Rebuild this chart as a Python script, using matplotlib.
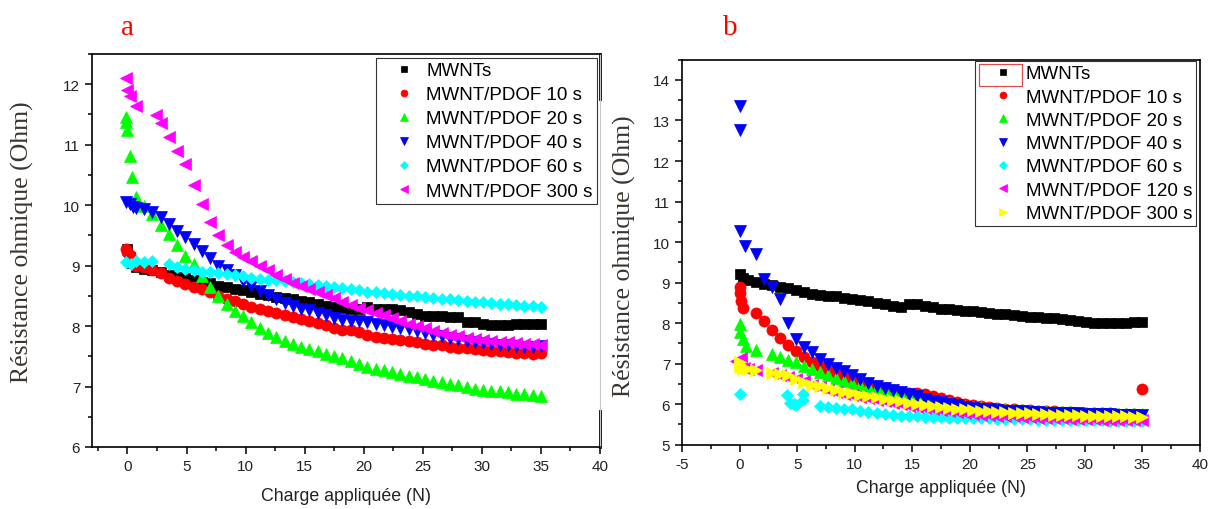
import matplotlib
matplotlib.use("Agg")
import matplotlib.pyplot as plt
from matplotlib.ticker import MultipleLocator
from matplotlib.patches import Rectangle

nan = float("nan")

# applied load (N) for the dense part of every curve
load = [0.7, 1.4, 2.1, 2.8, 3.5, 4.2, 4.9, 5.6, 6.3, 7.0,
        7.7, 8.4, 9.1, 9.8, 10.5, 11.2, 11.9, 12.6, 13.3, 14.0,
        14.7, 15.4, 16.1, 16.8, 17.5, 18.2, 18.9, 19.6, 20.3, 21.0,
        21.7, 22.4, 23.1, 23.8, 24.5, 25.2, 25.9, 26.6, 27.3, 28.0,
        28.7, 29.4, 30.1, 30.8, 31.5, 32.2, 32.9, 33.6, 34.3, 35.0]

# ---- panel a : first points near zero load, then values on `load`
a_mwnt_hx = [0.0, 0.2, 0.4]
a_mwnt_hy = [9.28, 9.15, 9.05]
a_mwnt = [8.98, 8.95, 8.92, 8.89, 8.84, 8.81, 8.79, 8.76, 8.73, 8.71,
          8.67, 8.64, 8.62, 8.59, 8.56, 8.53, 8.51, 8.48, 8.46, 8.44,
          8.42, 8.40, 8.37, 8.34, 8.32, 8.30, 8.28, 8.29, 8.31, 8.29,
          8.28, 8.28, 8.27, 8.24, 8.20, 8.17, 8.17, 8.16, 8.15, 8.15,
          8.07, 8.06, 8.04, 8.02, 8.01, 8.02, 8.04, 8.03, 8.04, 8.04]

a_10s_hx = [-0.1, 0.0, 0.2, 0.4]
a_10s_hy = [9.28, 9.22, 9.17, 9.05]
a_10s = [9.00, 8.97, 8.93, 8.88, 8.80, 8.75, 8.70, 8.64, 8.61, 8.56,
         8.50, 8.45, 8.41, 8.37, 8.32, 8.28, 8.25, 8.21, 8.18, 8.15,
         8.11, 8.08, 8.05, 8.01, 7.97, 7.94, 7.93, 7.91, 7.86, 7.82,
         7.80, 7.79, 7.77, 7.76, 7.74, 7.71, 7.69, 7.68, 7.66, 7.64,
         7.63, 7.62, 7.61, 7.59, 7.58, 7.57, 7.56, 7.55, 7.54, 7.56]

a_20s_hx = [-0.1, -0.1, 0.0, 0.2, 0.4]
a_20s_hy = [11.46, 11.38, 11.24, 10.82, 10.47]
a_20s = [10.14, 9.98, 9.85, 9.68, 9.52, 9.34, 9.16, 9.02, 8.82, 8.65,
         8.50, 8.36, 8.25, 8.16, 8.06, 7.96, 7.88, 7.82, 7.76, 7.70,
         7.66, 7.62, 7.58, 7.54, 7.50, 7.47, 7.42, 7.37, 7.32, 7.29,
         7.27, 7.24, 7.20, 7.18, 7.15, 7.12, 7.09, 7.07, 7.05, 7.02,
         6.99, 6.96, 6.95, 6.93, 6.92, 6.91, 6.88, 6.87, 6.86, 6.85]

a_40s_hx = [-0.1, 0.2, 0.5]
a_40s_hy = [10.05, 10.02, 9.97]
a_40s = [9.95, 9.93, 9.89, 9.80, 9.69, 9.57, 9.48, 9.36, 9.24, 9.12,
         9.00, 8.92, 8.85, 8.74, 8.66, 8.58, 8.52, 8.45, 8.38, 8.33,
         8.29, 8.26, 8.22, 8.18, 8.14, 8.10, 8.09, 8.08, 8.06, 8.03,
         8.01, 7.99, 7.97, 7.95, 7.92, 7.89, 7.86, 7.83, 7.80, 7.78,
         7.75, 7.73, 7.72, 7.70, 7.69, 7.68, 7.67, 7.66, 7.66, 7.67]

a_60s_hx = [-0.1, 0.3]
a_60s_hy = [9.06, 9.03]
a_60s = [9.07, 9.06, 9.08, nan, 9.02, 8.98, 8.95, 8.92, 8.90, 8.89,
         8.88, 8.86, 8.85, 8.82, 8.80, 8.78, 8.77, 8.76, 8.74, 8.73,
         8.72, 8.70, 8.68, 8.66, 8.64, 8.63, 8.61, 8.59, 8.57, 8.56,
         8.54, 8.53, 8.51, 8.50, 8.49, 8.48, 8.46, 8.45, 8.44, 8.43,
         8.41, 8.40, 8.39, 8.38, 8.37, 8.36, 8.35, 8.34, 8.33, 8.31]

a_300s_hx = [-0.1, 0.0, 0.2, 2.4]
a_300s_hy = [12.10, 11.90, 11.81, 11.49]
a_300s = [11.64, nan, nan, 11.36, 11.12, 10.90, 10.68, 10.34, 10.02, 9.72,
          9.50, 9.34, 9.22, 9.15, 9.07, 9.00, 8.93, 8.84, 8.78, 8.72,
          8.67, 8.62, 8.57, 8.51, 8.46, 8.40, 8.35, 8.30, 8.26, 8.22,
          8.18, 8.13, 8.08, 8.04, 8.00, 7.96, 7.92, 7.88, 7.85, 7.83,
          7.81, 7.79, 7.77, 7.76, 7.74, 7.73, 7.72, 7.71, 7.70, 7.69]

# ---- panel b
b_mwnt_hx = [0.0, 0.3]
b_mwnt_hy = [9.22, 9.12]
b_mwnt = [9.06, 9.02, 8.97, 8.94, 8.90, 8.87, 8.82, 8.78, 8.73, 8.70,
          8.68, 8.66, 8.62, 8.59, 8.57, 8.54, 8.50, 8.46, 8.43, 8.40,
          8.46, 8.46, 8.42, 8.39, 8.36, 8.35, 8.33, 8.31, 8.30, 8.27,
          8.24, 8.22, 8.22, 8.20, 8.17, 8.15, 8.14, 8.12, 8.12, 8.10,
          8.07, 8.05, 8.03, 8.01, 8.00, 8.00, 8.01, 8.01, 8.03, 8.04]

b_10s_hx = [0.0, 0.0, 0.1, 0.3]
b_10s_hy = [8.88, 8.75, 8.55, 8.38]
b_10s = [nan, 8.26, 8.06, 7.84, 7.64, 7.46, 7.31, 7.16, 7.04, 6.93,
         6.84, 6.76, 6.68, 6.60, 6.54, 6.49, 6.45, 6.41, 6.36, 6.31,
         6.28, 6.27, 6.26, 6.20, 6.15, 6.10, 6.05, 6.01, 5.97, 5.95,
         5.93, 5.91, 5.89, 5.88, 5.86, 5.85, 5.84, 5.83, 5.82, 5.81,
         5.80, 5.79, 5.78, 5.78, 5.77, 5.77, 5.76, 5.75, 5.75, 6.38]

b_20s_hx = [0.0, 0.0, 0.3, 0.6]
b_20s_hy = [7.97, 7.77, 7.60, 7.44]
b_20s = [nan, 7.34, nan, 7.23, 7.17, 7.10, 7.03, 6.95, 6.87, 6.79,
         6.71, 6.64, 6.58, 6.53, 6.48, 6.44, 6.39, 6.34, 6.29, 6.25,
         6.20, 6.16, 6.12, 6.08, 6.05, 6.02, 5.99, 5.96, 5.94, 5.92,
         5.90, 5.89, 5.88, 5.86, 5.85, 5.84, 5.83, 5.82, 5.81, 5.80,
         5.80, 5.79, 5.78, 5.78, 5.77, 5.77, 5.76, 5.76, 5.75, 5.75]

b_40s_hx = [0.0, 0.0, 0.0, 0.5]
b_40s_hy = [13.35, 12.76, 10.27, 9.90]
b_40s = [nan, 9.70, 9.10, 8.88, 8.59, 8.00, 7.62, 7.40, 7.28, 7.12,
         7.00, 6.90, 6.81, 6.72, 6.62, 6.53, 6.46, 6.40, 6.35, 6.31,
         6.24, 6.20, 6.14, 6.09, 6.05, 6.01, 5.97, 5.94, 5.91, 5.89,
         5.87, 5.85, 5.84, 5.83, 5.82, 5.81, 5.80, 5.79, 5.78, 5.78,
         5.77, 5.77, 5.76, 5.76, 5.75, 5.75, 5.74, 5.74, 5.73, 5.73]

b_60s_hx = [0.0, 4.1, 4.4, 4.7, 5.5, 5.5]
b_60s_hy = [6.25, 6.22, 6.04, 6.00, 6.25, 6.10]
b_60s = [nan, nan, nan, nan, nan, nan, 5.97, nan, nan, 5.96,
         5.93, 5.91, 5.89, 5.87, 5.84, 5.80, 5.78, 5.76, 5.74, 5.72,
         5.71, 5.70, 5.69, 5.68, 5.68, 5.67, 5.67, 5.66, 5.66, 5.65,
         5.65, 5.64, 5.64, 5.63, 5.63, 5.63, 5.62, 5.62, 5.62, 5.61,
         5.61, 5.61, 5.60, 5.60, 5.60, 5.59, 5.59, 5.59, 5.58, 5.59]

b_120s_hx = [-0.3, 0.1, 0.4]
b_120s_hy = [7.07, 7.15, 6.90]
b_120s = [6.86, 6.84, nan, 6.77, 6.72, 6.68, 6.63, 6.56, 6.48, 6.42,
          6.36, 6.31, 6.26, 6.22, 6.18, 6.15, 6.11, 6.07, 6.03, 6.00,
          5.96, 5.93, 5.90, 5.87, 5.85, 5.82, 5.80, 5.78, 5.76, 5.74,
          5.73, 5.72, 5.71, 5.70, 5.69, 5.68, 5.67, 5.66, 5.65, 5.65,
          5.64, 5.64, 5.63, 5.63, 5.62, 5.62, 5.61, 5.61, 5.60, 5.61]

b_300s_hx = [0.0, 0.0, 0.3]
b_300s_hy = [7.03, 6.91, 6.88]
b_300s = [6.86, 6.85, nan, 6.78, 6.75, 6.71, 6.62, 6.55, 6.48, 6.44,
          6.40, 6.36, 6.31, 6.27, 6.23, 6.20, 6.17, 6.13, 6.10, 6.07,
          6.04, 6.01, 5.98, 5.95, 5.93, 5.91, 5.89, 5.87, 5.85, 5.83,
          5.82, 5.81, 5.80, 5.79, 5.78, 5.77, 5.76, 5.75, 5.74, 5.74,
          5.73, 5.73, 5.72, 5.72, 5.71, 5.71, 5.70, 5.70, 5.69, 5.69]

plt.rcParams["font.family"] = ["Liberation Sans", "DejaVu Sans"]
plt.rcParams["axes.unicode_minus"] = False

series_a = [
    ("MWNTs", "s", "#000000", a_mwnt_hx, a_mwnt_hy, a_mwnt),
    ("MWNT/PDOF 10 s", "o", "#ff0000", a_10s_hx, a_10s_hy, a_10s),
    ("MWNT/PDOF 20 s", "^", "#00ff00", a_20s_hx, a_20s_hy, a_20s),
    ("MWNT/PDOF 40 s", "v", "#0000ff", a_40s_hx, a_40s_hy, a_40s),
    ("MWNT/PDOF 60 s", "D", "#00ffff", a_60s_hx, a_60s_hy, a_60s),
    ("MWNT/PDOF 300 s", "<", "#ff00ff", a_300s_hx, a_300s_hy, a_300s),
]
series_b = [
    ("MWNTs", "s", "#000000", b_mwnt_hx, b_mwnt_hy, b_mwnt),
    ("MWNT/PDOF 10 s", "o", "#ff0000", b_10s_hx, b_10s_hy, b_10s),
    ("MWNT/PDOF 20 s", "^", "#00ff00", b_20s_hx, b_20s_hy, b_20s),
    ("MWNT/PDOF 40 s", "v", "#0000ff", b_40s_hx, b_40s_hy, b_40s),
    ("MWNT/PDOF 60 s", "D", "#00ffff", b_60s_hx, b_60s_hy, b_60s),
    ("MWNT/PDOF 120 s", "<", "#ff00ff", b_120s_hx, b_120s_hy, b_120s),
    ("MWNT/PDOF 300 s", ">", "#ffff00", b_300s_hx, b_300s_hy, b_300s),
]
sizes = {"s": 7.5, "o": 8, "^": 9, "v": 9, "D": 6.5, "<": 9, ">": 9}

fig = plt.figure(figsize=(12.12, 5.10), dpi=100)
ax_a = fig.add_axes([92 / 1212, 1 - 448 / 510, 508 / 1212, 393 / 510])
ax_b = fig.add_axes([682 / 1212, 1 - 445.7 / 510, 518 / 1212, 385 / 510])


def draw(ax, series, xlim, ylim, legend_corner, spacing):
    for label, m, c, hx, hy, tail in series:
        ax.plot(hx + load, hy + tail, ls="none", marker=m, ms=sizes[m],
                color=c, mec=c, mew=0.5, label=label)
    ax.set_xlim(*xlim)
    ax.set_ylim(*ylim)
    ax.xaxis.set_major_locator(MultipleLocator(5))
    ax.xaxis.set_minor_locator(MultipleLocator(2.5))
    ax.yaxis.set_major_locator(MultipleLocator(1))
    ax.yaxis.set_minor_locator(MultipleLocator(0.5))
    ax.tick_params(which="both", direction="out", top=False, right=False,
                   labelsize=11, width=1.1, colors="#000000",
                   labelcolor="#222222")
    ax.tick_params(which="major", length=5)
    ax.tick_params(which="minor", length=3)
    for s in ax.spines.values():
        s.set_linewidth(1.2)
    leg = ax.legend(loc="upper right", bbox_to_anchor=legend_corner,
                    bbox_transform=fig.transFigure, fontsize=13.5,
                    frameon=True, fancybox=False, edgecolor="#000000",
                    borderaxespad=0, borderpad=0.22, labelspacing=spacing,
                    handlelength=2.6, handletextpad=-0.1, markerscale=0.62)
    leg.get_frame().set_linewidth(0.8)


draw(ax_a, series_a, (-3, 40), (6, 12.5), (597 / 1212, 1 - 59 / 510), 0.37)
draw(ax_b, series_b, (-5, 40), (5, 14.5), (1196 / 1212, 1 - 62 / 510), 0.33)

# the right border of panel a is only partly drawn in the original
ax_a.spines["right"].set_color("#c8c8c8")
ax_a.spines["right"].set_linewidth(0.8)
ax_a.axvline(40, 0.885, 1, color="#000000", lw=2, clip_on=False)
ax_a.axvline(40, 0, 0.092, color="#000000", lw=2, clip_on=False)

# red box around the first legend marker of panel b
fig.patches.append(Rectangle((979 / 1212, 1 - 87 / 510), 43 / 1212, 22 / 510,
                             transform=fig.transFigure, fill=False,
                             edgecolor="#e04a4a", lw=0.9))

ylab = "Résistance ohmique (Ohm)"
fig.text(22 / 1212, 1 - 242 / 510, ylab, rotation=90, ha="center",
         va="center", family="Liberation Serif", fontsize=18.5, color="#3a3530")
fig.text(624 / 1212, 1 - 256 / 510, ylab, rotation=90, ha="center",
         va="center", family="Liberation Serif", fontsize=18.5, color="#3a3530")
fig.text(346 / 1212, 1 - 497 / 510, "Charge appliquée (N)", ha="center",
         va="center", fontsize=12.8, color="#222222")
fig.text(941 / 1212, 1 - 489 / 510, "Charge appliquée (N)", ha="center",
         va="center", fontsize=12.8, color="#222222")
fig.text(128 / 1212, 1 - 28 / 510, "a", ha="center", va="center",
         family="Liberation Serif", fontsize=21, color="#ff0000")
fig.text(730 / 1212, 1 - 28 / 510, "b", ha="center", va="center",
         family="Liberation Serif", fontsize=21, color="#ff0000")

fig.savefig("out.png", dpi=100)
